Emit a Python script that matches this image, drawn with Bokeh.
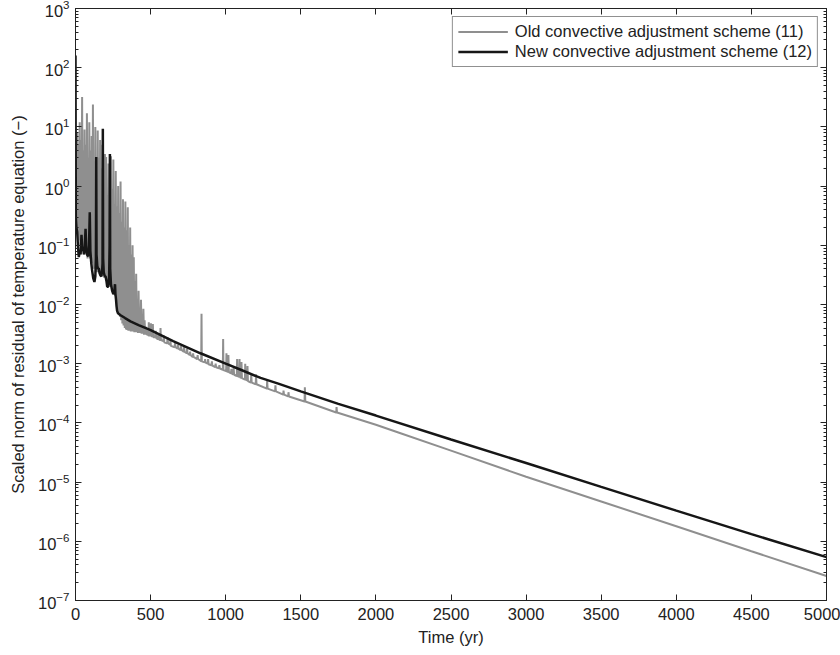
from bokeh.plotting import figure
from bokeh.models import (LinearAxis, FixedTicker, Range1d, Legend,
                          LegendItem, LogTickFormatter, CustomJSTickFormatter)
from bokeh.embed import file_html
from bokeh.resources import INLINE

# ---------------- data ----------------
x_ticks = [0, 500, 1000, 1500, 2000, 2500, 3000, 3500, 4000, 4500, 5000]
y_exponents = [-7, -6, -5, -4, -3, -2, -1, 0, 1, 2, 3]

# Old scheme, early oscillating part: lows at t = 0, 8, 16, ... ; highs at t = 4, 12, 20, ...
old_early_low = [0.25, 0.2, 0.15, 0.12, 0.1, 0.09, 0.08, 0.07, 0.08, 0.07, 0.06, 0.07,
                 0.06, 0.05, 0.05, 0.04, 0.04, 0.035, 0.035, 0.04, 0.035, 0.03, 0.03,
                 0.03, 0.028, 0.03, 0.025, 0.025, 0.022, 0.02, 0.02, 0.018, 0.016,
                 0.014, 0.011, 0.009, 0.0075, 0.0062, 0.0054, 0.0048, 0.0044, 0.004,
                 0.0038, 0.0037, 0.0036, 0.0036, 0.0035, 0.0035, 0.0035, 0.0034,
                 0.0034, 0.0034, 0.0033, 0.0033, 0.0033, 0.0032, 0.0032]
old_early_high = [3, 8, 5, 12, 6, 32, 4, 9, 5, 17, 3, 12, 4, 7, 24, 3, 10, 2.5, 8.7, 3,
                  6, 2, 5, 1.5, 3.5, 3.1, 0.7, 2.4, 0.6, 3.2, 0.9, 2.8, 0.5, 1.8, 0.45,
                  1.0, 0.35, 1.2, 0.25, 0.6, 0.2, 0.55, 0.18, 0.44, 0.1, 0.2, 0.07, 0.1,
                  0.063, 0.025, 0.033, 0.012, 0.017, 0.008, 0.012, 0.006, 0.0085]
old_early_step = 8  # years between successive lows

# Old scheme, later part (time, value)
old_tail = [
    (456, 0.0031), (460, 0.0054), (464, 0.0031), (470, 0.0042), (474, 0.0031),
    (480, 0.0031), (482, 0.0037), (484, 0.003),
    (486, 0.003), (488, 0.005), (490, 0.003), (500, 0.003), (502, 0.0048),
    (505, 0.0029), (513, 0.0029), (515, 0.0047), (518, 0.0028), (530, 0.0028),
    (534, 0.0036), (538, 0.0027), (548, 0.0026), (551, 0.0031), (554, 0.0026),
    (564, 0.0025), (566, 0.004), (569, 0.0025),
    (585, 0.0024), (588, 0.003), (591, 0.0023), (610, 0.0022), (613, 0.0028),
    (616, 0.0022), (630, 0.0021), (632, 0.0025), (635, 0.002), (660, 0.0019),
    (663, 0.0023), (666, 0.0019), (680, 0.0018), (683, 0.0021), (686, 0.0018),
    (700, 0.0017), (703, 0.002), (706, 0.0017),
    (720, 0.0016), (723, 0.0019), (726, 0.0016),
    (740, 0.0015), (743, 0.0018), (746, 0.0015), (760, 0.0014), (763, 0.0016),
    (766, 0.0014), (780, 0.0013), (783, 0.0015),
    (786, 0.0013), (810, 0.0012), (813, 0.0014), (816, 0.0012),
    (837, 0.0011), (839, 0.007), (841, 0.0011), (860, 0.00105), (863, 0.0012),
    (866, 0.00104), (880, 0.001),
    (883, 0.0012), (886, 0.00098), (905, 0.00094), (908, 0.0011), (911, 0.00093),
    (930, 0.00088), (933, 0.001), (936, 0.00087), (955, 0.00084), (958, 0.00095),
    (961, 0.00083),
    (981, 0.00079), (983, 0.0026), (985, 0.00078), (1003, 0.00075), (1005, 0.0015),
    (1008, 0.00074), (1016, 0.00073), (1018, 0.0014), (1021, 0.00072),
    (1035, 0.00069), (1038, 0.00082), (1041, 0.00068),
    (1050, 0.00066), (1053, 0.00085), (1056, 0.00065), (1074, 0.00062),
    (1076, 0.0012), (1079, 0.00062), (1090, 0.0006), (1092, 0.0012),
    (1095, 0.00059), (1103, 0.00058), (1105, 0.00107), (1108, 0.00057),
    (1128, 0.00054), (1130, 0.001), (1133, 0.00054), (1143, 0.00052),
    (1145, 0.00091), (1148, 0.00051), (1168, 0.00048), (1170, 0.00066),
    (1173, 0.00048), (1200, 0.00045), (1202, 0.00066), (1205, 0.00045),
    (1274, 0.00038), (1276, 0.00052), (1279, 0.00038), (1329, 0.00034),
    (1331, 0.00043), (1334, 0.00034), (1383, 0.0003), (1385, 0.00035),
    (1388, 0.0003), (1416, 0.00028), (1418, 0.00033), (1421, 0.00028),
    (1525, 0.00023), (1527, 0.0004), (1530, 0.00023), (1736, 0.00015),
    (1738, 0.000185), (1741, 0.00015), (2000, 9.3e-5), (2164, 6.7e-5),
    (2500, 3.4e-5), (3000, 1.23e-5), (3500, 4.7e-6), (4000, 1.8e-6),
    (4500, 6.8e-7), (5000, 2.6e-7),
]

# New scheme (time, value)
new_series = [
    (0, 160), (2, 0.3), (6, 0.2), (11, 0.17), (16, 0.1), (22, 0.063), (28, 0.08),
    (34, 0.07), (40, 0.15), (45, 0.08), (51, 0.093), (56, 0.07), (62, 0.1),
    (67, 0.19), (72, 0.08), (78, 0.069), (84, 0.065), (90, 0.1), (95, 0.36),
    (99, 0.08), (105, 0.05), (111, 0.037), (118, 0.028), (126, 0.024), (132, 0.03),
    (136, 0.06), (138, 3.1), (140, 0.07), (145, 0.045), (150, 0.04), (155, 0.041),
    (160, 0.034), (166, 0.031), (172, 0.03), (178, 0.04), (180, 0.05), (182, 9.3),
    (184, 0.06), (188, 0.035), (195, 0.03), (200, 0.03), (206, 0.025), (211, 0.02),
    (218, 0.02), (224, 0.03), (227, 0.1), (229, 3.5), (231, 0.04), (236, 0.022),
    (244, 0.017), (252, 0.015), (258, 0.016), (263, 0.022), (266, 0.015),
    (270, 0.012), (273, 0.0095), (277, 0.0078), (283, 0.0071), (300, 0.0066),
    (330, 0.0059), (366, 0.0052), (420, 0.0045), (477, 0.0039), (500, 0.0037),
    (650, 0.0024), (832, 0.0015), (1000, 0.001), (1100, 0.00079), (1232, 0.000575),
    (1350, 0.00046), (1500, 0.00034), (1750, 0.00021), (2000, 0.000133),
    (2500, 5.25e-5), (3000, 2.1e-5), (3500, 8.3e-6), (4000, 3.3e-6),
    (4500, 1.32e-6), (5000, 5.4e-7),
]

labels = ["Old convective adjustment scheme (11)", "New convective adjustment scheme (12)"]
colors = ["#8f8f8f", "#161616"]

# ---------------- build series ----------------
old_t, old_v = [], []
for k, (lo, hi) in enumerate(zip(old_early_low, old_early_high)):
    old_t += [k * old_early_step, k * old_early_step + old_early_step // 2]
    old_v += [lo, hi]
old_t += [t for t, _ in old_tail]
old_v += [v for _, v in old_tail]
new_t = [t for t, _ in new_series]
new_v = [v for _, v in new_series]

FONT = "Liberation Sans"
TXT = "#222222"

p = figure(width=840, height=655, y_axis_type="log",
           x_range=Range1d(0, 5000), y_range=Range1d(1e-7, 1e3),
           output_backend="svg", toolbar_location=None,
           min_border_left=75, min_border_right=14, min_border_top=8,
           min_border_bottom=55)
p.grid.visible = False
p.outline_line_color = "#222222"
p.outline_line_width = 1
p.background_fill_color = "white"
p.border_fill_color = "white"

x_ticker = FixedTicker(ticks=x_ticks, minor_ticks=[])
y_major = [10.0 ** e for e in y_exponents]
y_minor = [m * 10.0 ** e for e in y_exponents[:-1] for m in range(2, 10)]
y_ticker = FixedTicker(ticks=y_major, minor_ticks=y_minor)

p.xaxis.ticker = x_ticker
p.yaxis.ticker = y_ticker
p.yaxis.formatter = LogTickFormatter()

for ax in [p.xaxis[0], p.yaxis[0]]:
    ax.major_tick_in = 6
    ax.major_tick_out = 0
    ax.minor_tick_in = 3
    ax.minor_tick_out = 0
    ax.axis_line_color = TXT
    ax.major_tick_line_color = TXT
    ax.minor_tick_line_color = TXT
    ax.major_label_text_font = FONT
    ax.major_label_text_font_size = "16.5px"
    ax.major_label_text_color = TXT
    ax.axis_label_text_font = FONT
    ax.axis_label_text_font_size = "16.5px"
    ax.axis_label_text_font_style = "normal"
    ax.axis_label_text_color = TXT

p.xaxis.axis_label = "Time (yr)"
p.xaxis.major_label_standoff = 7
p.xaxis.axis_label_standoff = 5
p.yaxis.axis_label = "Scaled norm of residual of temperature equation (\u2212)"
p.yaxis.major_label_standoff = 6
p.yaxis.axis_label_standoff = 8

blank = CustomJSTickFormatter(code="return ''")
top = LinearAxis(ticker=x_ticker, formatter=blank,
                 major_label_standoff=0, major_tick_in=6, major_tick_out=0,
                 minor_tick_in=0, minor_tick_out=0, axis_line_color=TXT,
                 major_tick_line_color=TXT)
right = LinearAxis(ticker=y_ticker, formatter=blank,
                   major_label_standoff=0, major_tick_in=6, major_tick_out=0,
                   minor_tick_in=3, minor_tick_out=0, axis_line_color=TXT,
                   major_tick_line_color=TXT, minor_tick_line_color=TXT)
p.add_layout(top, "above")
p.add_layout(right, "right")

r_old = p.line(old_t, old_v, line_color=colors[0], line_width=2)
r_new = p.line(new_t, new_v, line_color=colors[1], line_width=2.5)

legend = Legend(items=[LegendItem(label=labels[0], renderers=[r_old]),
                       LegendItem(label=labels[1], renderers=[r_new])],
                location="top_right")
legend.margin = 8
legend.padding = 5
legend.spacing = 1
legend.glyph_width = 50
legend.glyph_height = 19
legend.label_height = 19
legend.label_standoff = 7
legend.label_text_font = FONT
legend.label_text_font_size = "16.5px"
legend.label_text_color = TXT
legend.border_line_color = TXT
legend.border_line_width = 1
legend.background_fill_alpha = 1
p.add_layout(legend)

open("out.html", "w").write(file_html(p, INLINE))
